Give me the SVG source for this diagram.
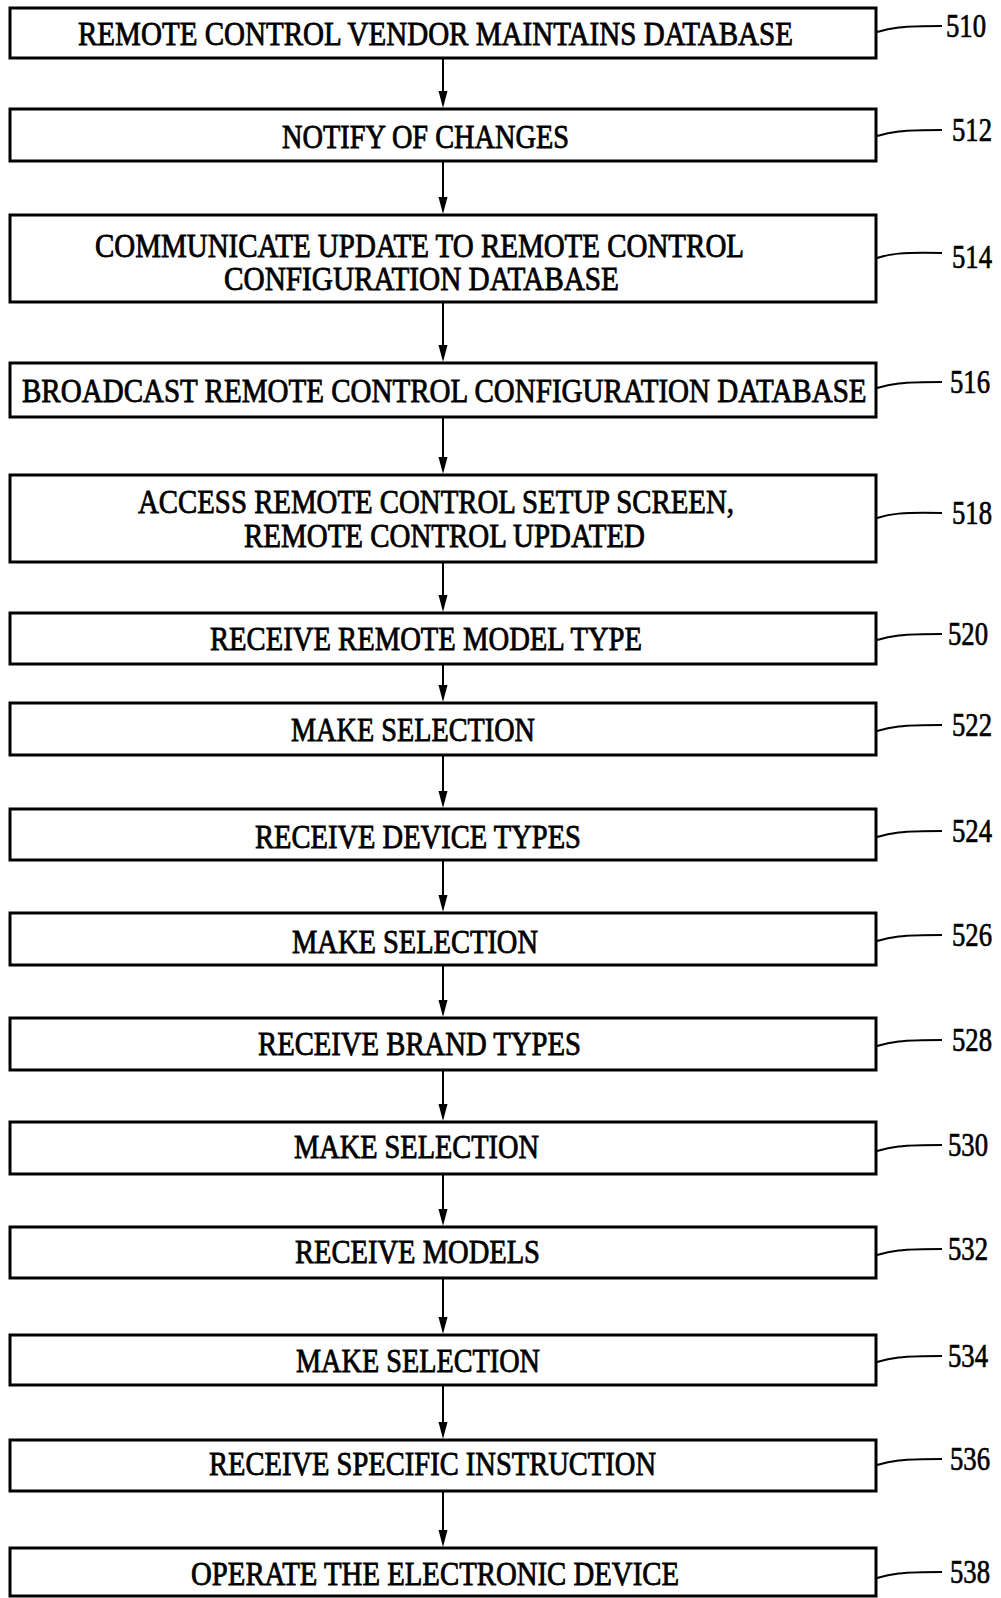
<svg xmlns="http://www.w3.org/2000/svg" width="1001" height="1598" viewBox="0 0 1001 1598">
<style>
.box{fill:#fff;stroke:#000;stroke-width:3}
.t{font-family:"Liberation Serif","Times New Roman",serif;font-size:33px;fill:#000;stroke:#000;stroke-width:0.8}
.n{font-family:"Liberation Serif","Times New Roman",serif;font-size:33px;fill:#000;stroke:#000;stroke-width:0.7}
.ld{fill:none;stroke:#000;stroke-width:2}
.ln{stroke:#000;stroke-width:2;fill:none}
</style>
<defs>
<path id="ah" d="M-4.5,0 L4.5,0 L0,17 Z" fill="#000"/>
</defs>
<rect width="1001" height="1598" fill="#fff"/>
<g id="connectors">
<path class="ln" d="M443,58 V100"/><use href="#ah" x="443" y="91"/>
<path class="ln" d="M443,161 V206"/><use href="#ah" x="443" y="197"/>
<path class="ln" d="M443,302 V354"/><use href="#ah" x="443" y="345"/>
<path class="ln" d="M443,417 V466"/><use href="#ah" x="443" y="457"/>
<path class="ln" d="M443,562 V604"/><use href="#ah" x="443" y="595"/>
<path class="ln" d="M443,664 V694"/><use href="#ah" x="443" y="685"/>
<path class="ln" d="M443,755 V800"/><use href="#ah" x="443" y="791"/>
<path class="ln" d="M443,860 V904"/><use href="#ah" x="443" y="895"/>
<path class="ln" d="M443,965 V1009"/><use href="#ah" x="443" y="1000"/>
<path class="ln" d="M443,1070 V1113"/><use href="#ah" x="443" y="1104"/>
<path class="ln" d="M443,1174 V1218"/><use href="#ah" x="443" y="1209"/>
<path class="ln" d="M443,1278 V1326"/><use href="#ah" x="443" y="1317"/>
<path class="ln" d="M443,1385 V1431"/><use href="#ah" x="443" y="1422"/>
<path class="ln" d="M443,1491 V1539"/><use href="#ah" x="443" y="1530"/>
</g>
<g id="n510"><rect class="box" x="10" y="8" width="866" height="50"/><text class="t" x="78" y="45" textLength="715" lengthAdjust="spacingAndGlyphs">REMOTE CONTROL VENDOR MAINTAINS DATABASE</text><path class="ld" d="M877,32 C890,28 900,26 942,26"/><text class="n" x="946" y="37" textLength="40" lengthAdjust="spacingAndGlyphs">510</text></g>
<g id="n512"><rect class="box" x="10" y="109" width="866" height="52"/><text class="t" x="282" y="148" textLength="287" lengthAdjust="spacingAndGlyphs">NOTIFY OF CHANGES</text><path class="ld" d="M877,136 C890,132 900,130 942,130"/><text class="n" x="952" y="141" textLength="40" lengthAdjust="spacingAndGlyphs">512</text></g>
<g id="n514"><rect class="box" x="10" y="215" width="866" height="87"/><text class="t" x="95" y="257" textLength="649" lengthAdjust="spacingAndGlyphs">COMMUNICATE UPDATE TO REMOTE CONTROL</text><text class="t" x="224" y="290" textLength="395" lengthAdjust="spacingAndGlyphs">CONFIGURATION DATABASE</text><path class="ld" d="M877,258 C890,254 900,252 942,253"/><text class="n" x="952" y="268" textLength="40" lengthAdjust="spacingAndGlyphs">514</text></g>
<g id="n516"><rect class="box" x="10" y="363" width="866" height="54"/><text class="t" transform="translate(22,402) scale(0.88,1)" x="0" y="0">BROADCAST REMOTE CONTROL CONFIGURATION DATABASE</text><path class="ld" d="M877,388 C890,384 900,382 942,382"/><text class="n" x="950" y="393" textLength="40" lengthAdjust="spacingAndGlyphs">516</text></g>
<g id="n518"><rect class="box" x="10" y="475" width="866" height="87"/><text class="t" x="138" y="513" textLength="596" lengthAdjust="spacingAndGlyphs">ACCESS REMOTE CONTROL SETUP SCREEN,</text><text class="t" x="244" y="547" textLength="401" lengthAdjust="spacingAndGlyphs">REMOTE CONTROL UPDATED</text><path class="ld" d="M877,518 C890,514 900,512 942,513"/><text class="n" x="952" y="524" textLength="40" lengthAdjust="spacingAndGlyphs">518</text></g>
<g id="n520"><rect class="box" x="10" y="613" width="866" height="51"/><text class="t" x="210" y="650" textLength="432" lengthAdjust="spacingAndGlyphs">RECEIVE REMOTE MODEL TYPE</text><path class="ld" d="M877,640 C890,636 900,634 942,634"/><text class="n" x="948" y="645" textLength="40" lengthAdjust="spacingAndGlyphs">520</text></g>
<g id="n522"><rect class="box" x="10" y="703" width="866" height="52"/><text class="t" x="291" y="741" textLength="244" lengthAdjust="spacingAndGlyphs">MAKE SELECTION</text><path class="ld" d="M877,731 C890,727 900,725 942,725"/><text class="n" x="952" y="736" textLength="40" lengthAdjust="spacingAndGlyphs">522</text></g>
<g id="n524"><rect class="box" x="10" y="809" width="866" height="51"/><text class="t" x="255" y="848" textLength="326" lengthAdjust="spacingAndGlyphs">RECEIVE DEVICE TYPES</text><path class="ld" d="M877,837 C890,833 900,831 942,831"/><text class="n" x="952" y="842" textLength="40" lengthAdjust="spacingAndGlyphs">524</text></g>
<g id="n526"><rect class="box" x="10" y="913" width="866" height="52"/><text class="t" x="292" y="953" textLength="246" lengthAdjust="spacingAndGlyphs">MAKE SELECTION</text><path class="ld" d="M877,941 C890,937 900,935 942,935"/><text class="n" x="952" y="946" textLength="40" lengthAdjust="spacingAndGlyphs">526</text></g>
<g id="n528"><rect class="box" x="10" y="1018" width="866" height="52"/><text class="t" x="258" y="1055" textLength="323" lengthAdjust="spacingAndGlyphs">RECEIVE BRAND TYPES</text><path class="ld" d="M877,1046 C890,1042 900,1040 942,1040"/><text class="n" x="952" y="1051" textLength="40" lengthAdjust="spacingAndGlyphs">528</text></g>
<g id="n530"><rect class="box" x="10" y="1122" width="866" height="52"/><text class="t" x="294" y="1158" textLength="245" lengthAdjust="spacingAndGlyphs">MAKE SELECTION</text><path class="ld" d="M877,1151 C890,1147 900,1145 942,1145"/><text class="n" x="948" y="1156" textLength="40" lengthAdjust="spacingAndGlyphs">530</text></g>
<g id="n532"><rect class="box" x="10" y="1227" width="866" height="51"/><text class="t" x="295" y="1263" textLength="245" lengthAdjust="spacingAndGlyphs">RECEIVE MODELS</text><path class="ld" d="M877,1255 C890,1251 900,1249 942,1249"/><text class="n" x="948" y="1260" textLength="40" lengthAdjust="spacingAndGlyphs">532</text></g>
<g id="n534"><rect class="box" x="10" y="1335" width="866" height="50"/><text class="t" x="296" y="1372" textLength="244" lengthAdjust="spacingAndGlyphs">MAKE SELECTION</text><path class="ld" d="M877,1362 C890,1358 900,1356 942,1356"/><text class="n" x="948" y="1367" textLength="40" lengthAdjust="spacingAndGlyphs">534</text></g>
<g id="n536"><rect class="box" x="10" y="1440" width="866" height="51"/><text class="t" x="209" y="1475" textLength="447" lengthAdjust="spacingAndGlyphs">RECEIVE SPECIFIC INSTRUCTION</text><path class="ld" d="M877,1465 C890,1461 900,1459 942,1459"/><text class="n" x="950" y="1470" textLength="40" lengthAdjust="spacingAndGlyphs">536</text></g>
<g id="n538"><rect class="box" x="10" y="1548" width="866" height="48"/><text class="t" x="191" y="1585" textLength="488" lengthAdjust="spacingAndGlyphs">OPERATE THE ELECTRONIC DEVICE</text><path class="ld" d="M877,1578 C890,1574 900,1572 942,1572"/><text class="n" x="950" y="1583" textLength="40" lengthAdjust="spacingAndGlyphs">538</text></g>
</svg>
